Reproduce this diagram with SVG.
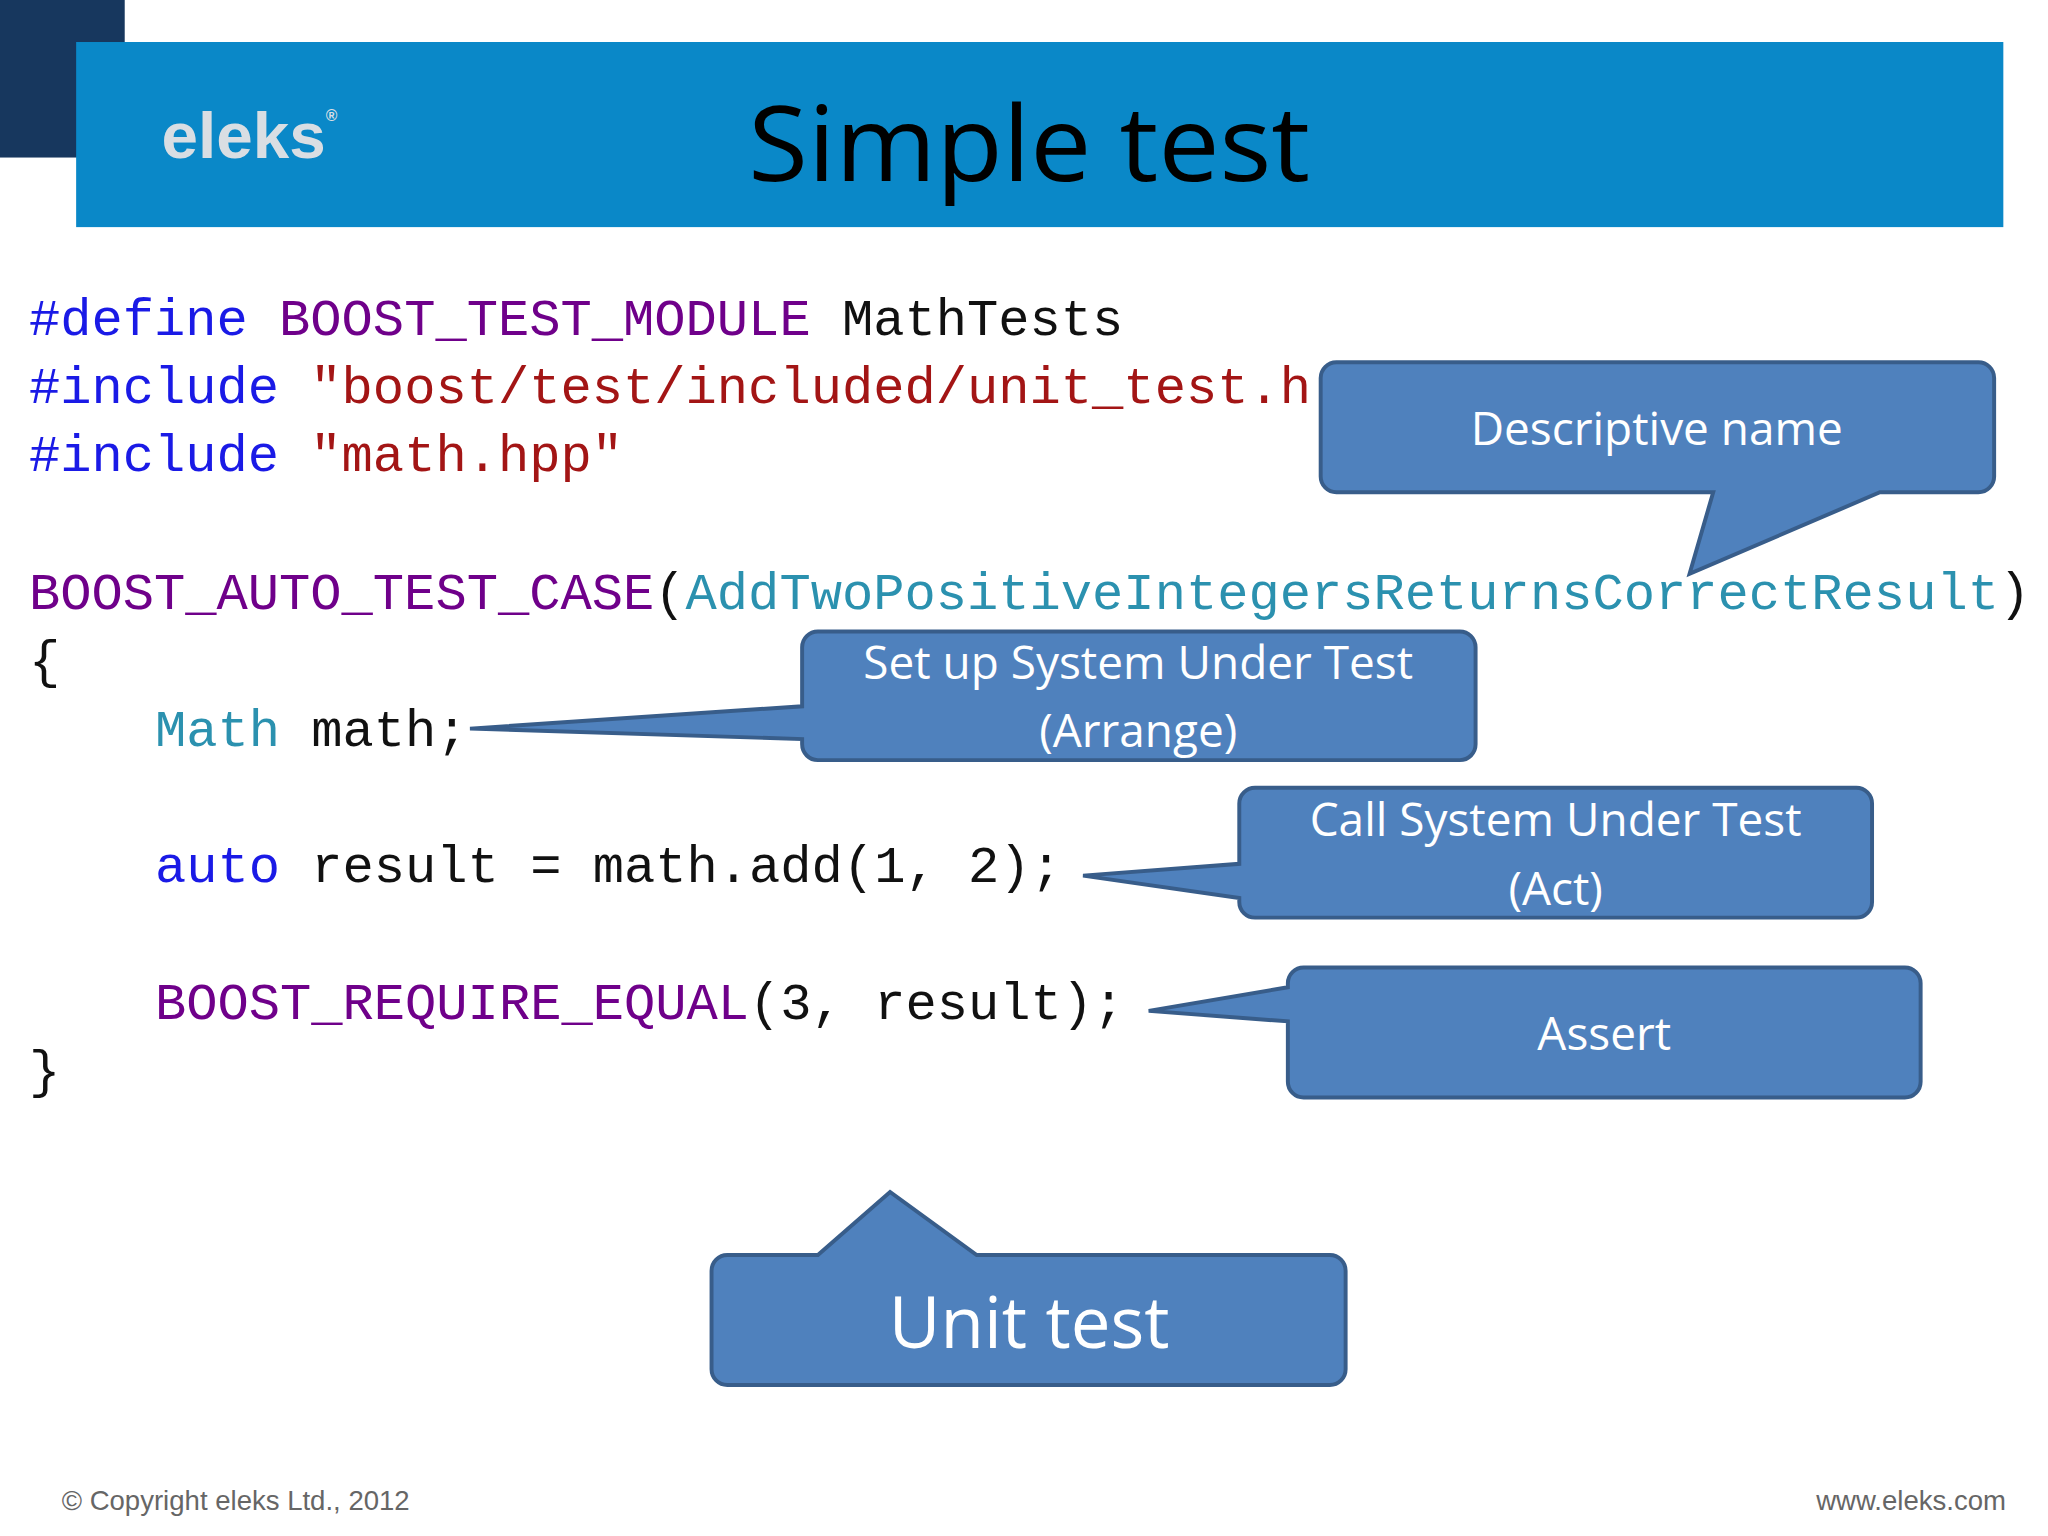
<svg xmlns="http://www.w3.org/2000/svg" width="2048" height="1536" viewBox="0 0 2048 1536">
<style>
.code{font-family:"Liberation Mono","DejaVu Sans Mono",monospace;font-size:39.7px;fill:#111}
.kw{fill:#1a1ae6}.mac{fill:#6f008a}.str{fill:#a31515}.ty{fill:#2b91af}
.co{fill:#4f81bd;stroke:#385d8a;stroke-width:3}
.lbl{font-family:"Open Sans","Liberation Sans",sans-serif;font-size:35px;fill:#fff;text-anchor:middle}
</style>
<rect width="2048" height="1536" fill="#fff"/>
<g transform="scale(1.3128)">
<g id="header">
<rect x="0" y="0" width="95" height="120" fill="#17375e"/>
<rect x="58" y="32" width="1468" height="141" fill="#0a88c8"/>
<text x="123" y="120" font-family="Liberation Sans,Arial,sans-serif" font-weight="bold" font-size="50" fill="#d9dee3">eleks<tspan font-size="12" dy="-28">®</tspan></text>
<text x="784" y="138" font-family="Open Sans,Liberation Sans,sans-serif" font-size="80" text-anchor="middle" textLength="428" lengthAdjust="spacingAndGlyphs" fill="#000">Simple test</text>
</g>
<g id="code" xml:space="preserve">
<text class="code" x="22" y="255"><tspan class="kw">#define</tspan> <tspan class="mac">BOOST_TEST_MODULE</tspan> MathTests</text>
<text class="code" x="22" y="307"><tspan class="kw">#include</tspan> <tspan class="str">"boost/test/included/unit_test.h</tspan></text>
<text class="code" x="22" y="359"><tspan class="kw">#include</tspan> <tspan class="str">"math.hpp"</tspan></text>
<text class="code" x="22" y="464"><tspan class="mac">BOOST_AUTO_TEST_CASE</tspan>(<tspan class="ty">AddTwoPositiveIntegersReturnsCorrectResult</tspan>)</text>
<text class="code" x="22" y="516">{</text>
<text class="code" x="118" y="568"><tspan class="ty">Math</tspan> math;</text>
<text class="code" x="118" y="672"><tspan class="kw">auto</tspan> result = math.add(1, 2);</text>
<text class="code" x="118" y="776"><tspan class="mac">BOOST_REQUIRE_EQUAL</tspan>(3, result);</text>
<text class="code" x="22" y="828">}</text>
</g>
<g id="c1"><path class="co" d="M1018,276 H1507 A12 12 0 0 1 1519 288 V363 A12 12 0 0 1 1507 375 H1432 L1287 437 L1305 375 H1018 A12 12 0 0 1 1006 363 V288 A12 12 0 0 1 1018 276 Z"/><text class="lbl" x="1262" y="339">Descriptive name</text></g>
<g id="c2"><path class="co" d="M623,481 H1112 A12 12 0 0 1 1124 493 V567 A12 12 0 0 1 1112 579 H623 A12 12 0 0 1 611 567 V563 L358 555 L611 538 V493 A12 12 0 0 1 623 481 Z"/><text class="lbl" x="867" y="517">Set up System Under Test</text><text class="lbl" x="867" y="569">(Arrange)</text></g>
<g id="c3"><path class="co" d="M956,600 H1414 A12 12 0 0 1 1426 612 V687 A12 12 0 0 1 1414 699 H956 A12 12 0 0 1 944 687 V684 L825 667 L944 658 V612 A12 12 0 0 1 956 600 Z"/><text class="lbl" x="1185" y="637">Call System Under Test</text><text class="lbl" x="1185" y="689">(Act)</text></g>
<g id="c4"><path class="co" d="M993,737 H1451 A12 12 0 0 1 1463 749 V824 A12 12 0 0 1 1451 836 H993 A12 12 0 0 1 981 824 V778 L875 770 L981 752 V749 A12 12 0 0 1 993 737 Z"/><text class="lbl" x="1222" y="800">Assert</text></g>
<g id="c5"><path class="co" d="M554,956 H623 L678 908 L744 956 H1013 A12 12 0 0 1 1025 968 V1043 A12 12 0 0 1 1013 1055 H554 A12 12 0 0 1 542 1043 V968 A12 12 0 0 1 554 956 Z"/><text class="lbl" x="784" y="1027" style="font-size:54px">Unit test</text></g>
<g id="footer" font-family="Liberation Sans,Arial,sans-serif" font-size="21" fill="#666">
<text x="47" y="1150">© Copyright eleks Ltd., 2012</text>
<text x="1528" y="1150" text-anchor="end">www.eleks.com</text>
</g>
</g>
</svg>
